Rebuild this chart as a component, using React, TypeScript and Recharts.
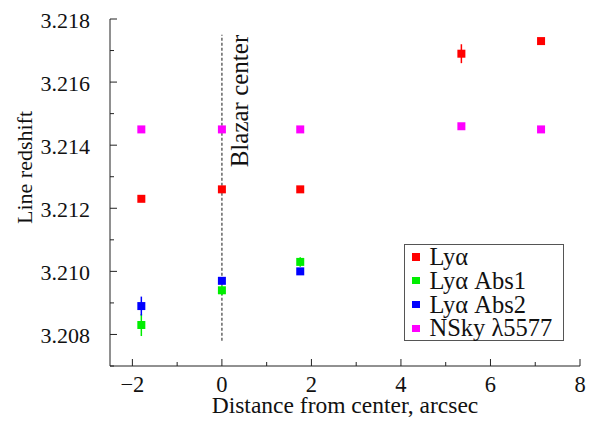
import { ScatterChart, Scatter, XAxis, YAxis, ErrorBar, ReferenceLine } from "recharts";

// distance from center (arcsec), redshift, error
const lyaX = [-1.8, 0, 1.75, 5.35, 7.13];
const lyaZ = [3.2123, 3.2126, 3.2126, 3.2169, 3.2173];
const lyaErr = [0, 0, 0, 0.0003, 0];

const abs1X = [-1.8, 0, 1.75];
const abs1Z = [3.2083, 3.2094, 3.2103];
const abs1Err = [0.00035, 0.00015, 0.00015];

const abs2X = [-1.8, 0, 1.75];
const abs2Z = [3.2089, 3.2097, 3.21];
const abs2Err = [0.0003, 0.00005, 0.00005];

const skyX = [-1.8, 0, 1.75, 5.35, 7.13];
const skyZ = [3.2145, 3.2145, 3.2145, 3.2146, 3.2145];
const skyErr = [0, 0, 0, 0, 0];

const xTicks = [-2, -1, 0, 1, 2, 3, 4, 5, 6, 7, 8];
const yTicks = [3.207, 3.208, 3.209, 3.21, 3.211, 3.212, 3.213, 3.214, 3.215, 3.216, 3.217, 3.218];

const centerLine = [3.2078, 3.2175];

const FONT = "'Liberation Serif', 'Times New Roman', serif";
const AXIS = "#222";

const toRows = (xs: number[], zs: number[], errs: number[]) =>
  xs.map((x, i) => ({ x, z: zs[i], err: errs[i] }));

const series = [
  { name: "Lyα", color: "#ff0000", data: toRows(lyaX, lyaZ, lyaErr) },
  { name: "Lyα Abs1", color: "#00ee00", data: toRows(abs1X, abs1Z, abs1Err) },
  { name: "Lyα Abs2", color: "#0000ff", data: toRows(abs2X, abs2Z, abs2Err) },
  { name: "NSky λ5577", color: "#ff00ff", data: toRows(skyX, skyZ, skyErr) },
];

const isMajorX = (v: number) => Math.abs(v) % 2 === 0;
const isMajorY = (v: number) => Math.round(v * 1000) % 2 === 0;

const textStyle = { fontFamily: FONT };

function BottomTick({ x, y, payload }: any) {
  const v = payload.value;
  const major = isMajorX(v);
  return (
    <g>
      <line x1={x} y1={y} x2={x} y2={y - (major ? 7 : 4)} stroke={AXIS} />
      {major && (
        <text x={x} y={y + 26} textAnchor="middle" style={textStyle} fontSize={22.5} fill="#111">
          {v < 0 ? `\u2212${-v}` : v}
        </text>
      )}
    </g>
  );
}

function TopTick({ x, y, payload }: any) {
  const major = isMajorX(payload.value);
  return <line x1={x} y1={y} x2={x} y2={y + (major ? 7 : 4)} stroke={AXIS} />;
}

function LeftTick({ x, y, payload }: any) {
  const v = payload.value;
  const major = isMajorY(v);
  return (
    <g>
      <line x1={x} y1={y} x2={x + (major ? 7 : 4)} y2={y} stroke={AXIS} />
      {major && (
        <text x={x - 20} y={y + 9} textAnchor="end" style={textStyle} fontSize={22} fill="#111">
          {v.toFixed(3)}
        </text>
      )}
    </g>
  );
}

function RightTick({ x, y, payload }: any) {
  const major = isMajorY(payload.value);
  return <line x1={x} y1={y} x2={x - (major ? 7 : 4)} y2={y} stroke={AXIS} />;
}

function LegendBox() {
  return (
    <div
      style={{
        position: "absolute",
        left: 404,
        top: 244,
        width: 145,
        border: "1px solid #555",
        background: "#fff",
        padding: "0 6px 0 7px",
        fontFamily: FONT,
        fontSize: 24.5,
        lineHeight: "24px",
        color: "#111",
      }}
    >
      {series.map((s) => (
        <div key={s.name} style={{ display: "flex", alignItems: "center", height: 23.8, whiteSpace: "nowrap" }}>
          <span style={{ width: 7.5, height: 7.5, background: s.color, marginRight: 10, display: "inline-block", flex: "none" }} />
          <span>{s.name}</span>
        </div>
      ))}
    </div>
  );
}

export default function App() {
  return (
    <div style={{ position: "absolute", left: 0, top: 0, width: 589, height: 421, background: "#fff" }}>
      <ScatterChart width={589} height={421} margin={{ top: 19, right: 9, bottom: 0, left: 0 }}>
        <XAxis
          type="number"
          dataKey="x"
          domain={[-2.5, 8]}
          ticks={xTicks}
          interval={0}
          tickSize={0}
          tickMargin={0}
          height={55}
          stroke={AXIS}
          tick={<BottomTick />}
          label={(p: any) => {
            const vb = p.viewBox;
            return (
              <text x={vb.x + vb.width / 2} y={vb.y + 47} textAnchor="middle" style={textStyle} fontSize={23.5} fill="#111">
                Distance from center, arcsec
              </text>
            );
          }}
        />
        <XAxis
          xAxisId="top"
          orientation="top"
          type="number"
          domain={[-2.5, 8]}
          ticks={xTicks}
          interval={0}
          tickSize={0}
          tickMargin={0}
          height={0}
          stroke={AXIS}
          tick={<TopTick />}
        />
        <YAxis
          type="number"
          dataKey="z"
          domain={[3.207, 3.218]}
          ticks={yTicks}
          interval={0}
          tickSize={0}
          tickMargin={0}
          width={110}
          stroke={AXIS}
          tick={<LeftTick />}
          label={(p: any) => {
            const vb = p.viewBox;
            const cx = vb.x + 32;
            const cy = vb.y + vb.height / 2 - 25;
            return (
              <text x={cx} y={cy} transform={`rotate(-90 ${cx} ${cy})`} textAnchor="middle" style={textStyle} fontSize={22} fill="#111">
                Line redshift
              </text>
            );
          }}
        />
        <YAxis
          yAxisId="right"
          orientation="right"
          type="number"
          domain={[3.207, 3.218]}
          ticks={yTicks}
          interval={0}
          tickSize={0}
          tickMargin={0}
          width={0}
          stroke={AXIS}
          tick={<RightTick />}
        />
        <ReferenceLine
          segment={[
            { x: 0, y: centerLine[0] },
            { x: 0, y: centerLine[1] },
          ]}
          stroke="#666"
          strokeWidth={1.5}
          strokeDasharray="3 2"
          label={(p: any) => {
            const vb = p.viewBox;
            const cx = vb.x + 26;
            const cy = vb.y;
            return (
              <text x={cx} y={cy} transform={`rotate(-90 ${cx} ${cy})`} textAnchor="end" style={textStyle} fontSize={25} fill="#111">
                Blazar center
              </text>
            );
          }}
        />
        {series.map((s) => (
          <Scatter key={s.name} name={s.name} data={s.data} fill={s.color} shape="square" isAnimationActive={false}>
            <ErrorBar dataKey="err" direction="y" width={0} stroke={s.color} strokeWidth={1.5} />
          </Scatter>
        ))}
      </ScatterChart>
      <LegendBox />
    </div>
  );
}
